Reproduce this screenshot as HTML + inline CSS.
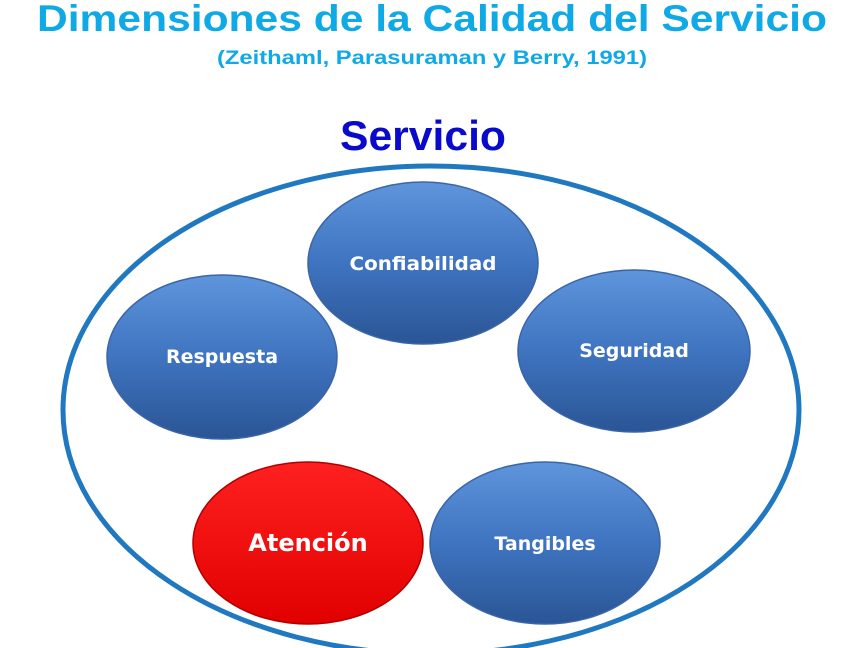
<!DOCTYPE html>
<html><head><meta charset="utf-8"><style>
html,body{margin:0;padding:0;background:#fff;width:864px;height:648px;overflow:hidden}
</style></head><body>
<svg width="864" height="648" viewBox="0 0 864 648" xmlns="http://www.w3.org/2000/svg" font-family="Liberation Sans, Arial, sans-serif">
<defs>
<linearGradient id="b" x1="0" y1="0" x2="0" y2="1">
<stop offset="0" stop-color="#5E95DB"/><stop offset="0.5" stop-color="#3F74C0"/><stop offset="1" stop-color="#2A5595"/>
</linearGradient>
<linearGradient id="r" x1="0" y1="0" x2="0" y2="1">
<stop offset="0" stop-color="#FF2020"/><stop offset="1" stop-color="#E00000"/>
</linearGradient>
</defs>
<text x="432" y="31" text-anchor="middle" font-size="37" font-weight="bold" fill="#0FA9E6" textLength="790" lengthAdjust="spacingAndGlyphs">Dimensiones de la Calidad del Servicio</text>
<text x="432" y="64" text-anchor="middle" font-size="19" font-weight="bold" fill="#0FA9E6" textLength="430" lengthAdjust="spacingAndGlyphs">(Zeithaml, Parasuraman y Berry, 1991)</text>
<text x="423" y="150" text-anchor="middle" font-size="42" font-weight="bold" fill="#0A0ACC" textLength="166" lengthAdjust="spacingAndGlyphs">Servicio</text>
<ellipse cx="431" cy="410" rx="368" ry="244" fill="none" stroke="#1F78C0" stroke-width="5"/>
<g stroke="#3A65A8" stroke-width="1.5">
<ellipse cx="423" cy="263" rx="115" ry="81" fill="url(#b)"/>
<ellipse cx="222" cy="357" rx="115" ry="82" fill="url(#b)"/>
<ellipse cx="634" cy="351" rx="116" ry="81" fill="url(#b)"/>
<ellipse cx="545" cy="543" rx="115" ry="81" fill="url(#b)"/>
<ellipse cx="308" cy="543" rx="115" ry="81" fill="url(#r)" stroke="#B00000"/>
</g>
<g fill="#fff" font-weight="bold" font-size="20" text-anchor="middle" font-family="DejaVu Sans, Liberation Sans, sans-serif">
<text x="423" y="270" font-size="19" textLength="147" lengthAdjust="spacingAndGlyphs">Confiabilidad</text>
<text x="222" y="363" font-size="19">Respuesta</text>
<text x="634" y="357" font-size="19">Seguridad</text>
<text x="545" y="550" font-size="19">Tangibles</text>
<text x="308" y="551" font-size="24">Atención</text>
</g>
</svg>
</body></html>
